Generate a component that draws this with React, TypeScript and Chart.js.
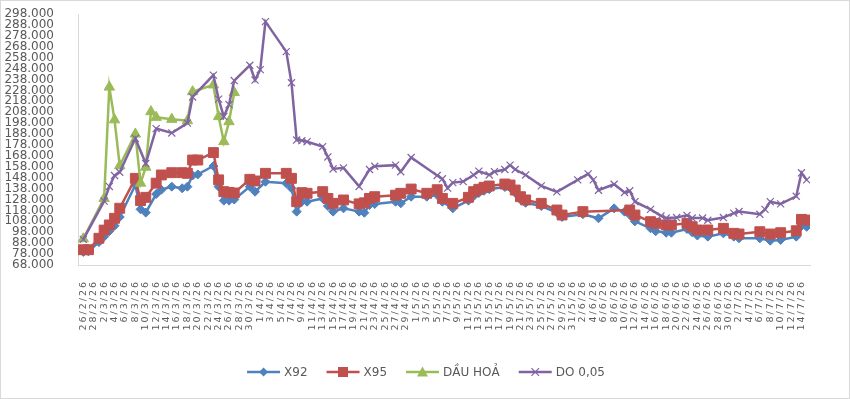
import { useEffect, useRef } from 'react';
import { Chart, registerables, LinearScale } from 'chart.js';

Chart.register(...registerables);

// Linear day-index axis whose tick labels are drawn letter-spaced
class SpacedDayScale extends LinearScale {
  static id = 'spacedDay';
  static defaults = {};
  drawLabels(chartArea: any) {
    const ctx = this.ctx as any;
    ctx.save();
    ctx.letterSpacing = '2px';
    super.drawLabels(chartArea);
    ctx.restore();
  }
}
Chart.register(SpacedDayScale);

// Daily calendar, 26/2/26 .. 15/7/26
const FIRST_DAY = new Date(2026, 1, 26);
const LAST_DAY = new Date(2026, 6, 15);
const days: string[] = [];
for (let d = new Date(FIRST_DAY); d <= LAST_DAY; d.setDate(d.getDate() + 1)) {
  days.push(`${d.getDate()}/${d.getMonth() + 1}/26`);
}

const Y_MIN = 68000;
const Y_MAX = 298000;
const Y_STEP = 10000;

const seriesNames = ['X92', 'X95', 'DẦU HOẢ', 'DO 0,05'];
const seriesColors = ['#4F81BD', '#C0504D', '#9BBB59', '#8064A2'];

const x92: [string, number][] = [
  ['26/2/26', 80000], ['27/2/26', 80500], ['1/3/26', 89000], ['2/3/26', 94000], ['3/3/26', 99000],
  ['4/3/26', 104000], ['5/3/26', 112000], ['8/3/26', 141300], ['9/3/26', 119000], ['10/3/26', 116000],
  ['12/3/26', 133000], ['13/3/26', 137000], ['15/3/26', 139800], ['17/3/26', 138300], ['18/3/26', 139800],
  ['19/3/26', 150000], ['20/3/26', 151000], ['23/3/26', 158700], ['24/3/26', 139800], ['25/3/26', 127000],
  ['26/3/26', 127000], ['27/3/26', 128000], ['30/3/26', 139800], ['31/3/26', 135200], ['2/4/26', 144300],
  ['6/4/26', 142900], ['7/4/26', 138300], ['8/4/26', 116900], ['9/4/26', 126000], ['10/4/26', 126000],
  ['13/4/26', 129000], ['14/4/26', 122000], ['15/4/26', 116900], ['17/4/26', 119900], ['20/4/26', 116900],
  ['21/4/26', 115900], ['22/4/26', 123000], ['23/4/26', 123900], ['27/4/26', 126000], ['28/4/26', 124500],
  ['30/4/26', 130600], ['3/5/26', 130600], ['5/5/26', 132100], ['6/5/26', 126000], ['8/5/26', 119900],
  ['11/5/26', 127000], ['12/5/26', 131000], ['13/5/26', 134000], ['14/5/26', 136000], ['15/5/26', 137500],
  ['18/5/26', 139500], ['19/5/26', 139000], ['20/5/26', 134000], ['21/5/26', 128000], ['22/5/26', 125000],
  ['25/5/26', 122000], ['28/5/26', 116000], ['29/5/26', 112000], ['2/6/26', 114500], ['5/6/26', 110800],
  ['8/6/26', 119900], ['10/6/26', 116900], ['11/6/26', 114000], ['12/6/26', 108000], ['15/6/26', 101600],
  ['16/6/26', 99000], ['18/6/26', 97600], ['19/6/26', 97600], ['22/6/26', 101000], ['23/6/26', 98000],
  ['24/6/26', 95000], ['26/6/26', 94000], ['29/6/26', 97000], ['1/7/26', 94000], ['2/7/26', 92500],
  ['6/7/26', 92500], ['8/7/26', 90300], ['10/7/26', 91000], ['13/7/26', 94000], ['14/7/26', 103700],
  ['15/7/26', 103000],
];

const x95: [string, number][] = [
  ['26/2/26', 82000], ['27/2/26', 82000], ['1/3/26', 92500], ['2/3/26', 100000], ['3/3/26', 104700],
  ['4/3/26', 110800], ['5/3/26', 120000], ['8/3/26', 147400], ['9/3/26', 127000], ['10/3/26', 130000],
  ['12/3/26', 143000], ['13/3/26', 150500], ['15/3/26', 152600], ['17/3/26', 152600], ['18/3/26', 152000],
  ['19/3/26', 164200], ['20/3/26', 164200], ['23/3/26', 171000], ['24/3/26', 146000], ['25/3/26', 135200],
  ['26/3/26', 134500], ['27/3/26', 134000], ['30/3/26', 146500], ['31/3/26', 145000], ['2/4/26', 152000],
  ['6/4/26', 152000], ['7/4/26', 147400], ['8/4/26', 126000], ['9/4/26', 134300], ['10/4/26', 133700],
  ['13/4/26', 135200], ['14/4/26', 129000], ['15/4/26', 124500], ['17/4/26', 127600], ['20/4/26', 124000],
  ['21/4/26', 125000], ['22/4/26', 129000], ['23/4/26', 130600], ['27/4/26', 132000], ['28/4/26', 133700],
  ['30/4/26', 137600], ['3/5/26', 133700], ['5/5/26', 137000], ['6/5/26', 129000], ['8/5/26', 124500],
  ['11/5/26', 130000], ['12/5/26', 135200], ['13/5/26', 137400], ['14/5/26', 139200], ['15/5/26', 140400],
  ['18/5/26', 142200], ['19/5/26', 141300], ['20/5/26', 136700], ['21/5/26', 130600], ['22/5/26', 127600],
  ['25/5/26', 124500], ['28/5/26', 118400], ['29/5/26', 113800], ['2/6/26', 116900], ['11/6/26', 118400],
  ['12/6/26', 113800], ['15/6/26', 107700], ['16/6/26', 106200], ['18/6/26', 104700], ['19/6/26', 104700],
  ['22/6/26', 106200], ['23/6/26', 103100], ['24/6/26', 100100], ['26/6/26', 100100], ['29/6/26', 101600],
  ['1/7/26', 97000], ['2/7/26', 96400], ['6/7/26', 98500], ['8/7/26', 96400], ['10/7/26', 97600],
  ['13/7/26', 99400], ['14/7/26', 109800], ['15/7/26', 109200],
];

const dauHoa: [string, number][] = [
  ['26/2/26', 92000], ['2/3/26', 129000], ['3/3/26', 231000], ['4/3/26', 201000], ['5/3/26', 159000],
  ['8/3/26', 188000], ['9/3/26', 143000], ['10/3/26', 157600], ['11/3/26', 208500], ['12/3/26', 203300],
  ['15/3/26', 201500], ['18/3/26', 200200], ['19/3/26', 226800], ['23/3/26', 233000], ['24/3/26', 204000],
  ['25/3/26', 181000], ['26/3/26', 199300], ['27/3/26', 226000],
];

const do005: [string, number][] = [
  ['26/2/26', 91500], ['2/3/26', 126500], ['3/3/26', 140000], ['4/3/26', 150000], ['5/3/26', 153000],
  ['8/3/26', 184000], ['10/3/26', 161000], ['12/3/26', 193000], ['15/3/26', 189000], ['18/3/26', 198000],
  ['19/3/26', 222000], ['23/3/26', 242000], ['24/3/26', 220000], ['25/3/26', 204000], ['26/3/26', 215000],
  ['27/3/26', 237000], ['30/3/26', 251000], ['31/3/26', 237500], ['1/4/26', 247000], ['2/4/26', 291000],
  ['6/4/26', 263500], ['7/4/26', 235000], ['8/4/26', 182500], ['9/4/26', 182000], ['10/4/26', 181000],
  ['13/4/26', 176500], ['14/4/26', 167000], ['15/4/26', 156000], ['17/4/26', 157000], ['20/4/26', 140000],
  ['22/4/26', 155500], ['23/4/26', 158500], ['27/4/26', 159500], ['28/4/26', 153500], ['30/4/26', 166500],
  ['5/5/26', 150000], ['6/5/26', 147000], ['7/5/26', 138500], ['8/5/26', 143500], ['10/5/26', 144500],
  ['12/5/26', 150500], ['13/5/26', 154000], ['15/5/26', 150500], ['16/5/26', 153500], ['18/5/26', 155500],
  ['19/5/26', 159500], ['20/5/26', 155500], ['22/5/26', 150500], ['25/5/26', 140500], ['28/5/26', 135000],
  ['1/6/26', 146000], ['3/6/26', 151500], ['4/6/26', 146000], ['5/6/26', 136500], ['8/6/26', 142000],
  ['10/6/26', 134500], ['11/6/26', 136000], ['12/6/26', 126000], ['15/6/26', 119000], ['17/6/26', 113000],
  ['18/6/26', 111000], ['20/6/26', 111500], ['22/6/26', 113500], ['23/6/26', 111000], ['25/6/26', 111000],
  ['26/6/26', 109000], ['29/6/26', 111500], ['1/7/26', 115500], ['2/7/26', 117000], ['6/7/26', 114500],
  ['7/7/26', 119000], ['8/7/26', 126000], ['10/7/26', 124000], ['13/7/26', 131000], ['14/7/26', 152500],
  ['15/7/26', 146000],
];

const TEXT_COLOR = '#595959';
const FONT_FAMILY = '"DejaVu Sans", sans-serif';

function toPoints(points: [string, number][]) {
  return points.map(([d, v]) => ({ x: days.indexOf(d), y: v }));
}

function formatThousands(v: number): string {
  return String(Math.round(v)).replace(/\B(?=(\d{3})+(?!\d))/g, '.');
}

type MarkerKind = 'rectRot' | 'rect' | 'triangle' | 'crossRot';

function drawMarker(ctx: CanvasRenderingContext2D, kind: MarkerKind, x: number, y: number, color: string) {
  ctx.save();
  ctx.fillStyle = color;
  ctx.strokeStyle = color;
  ctx.beginPath();
  if (kind === 'rectRot') {
    const r = 4.5;
    ctx.moveTo(x, y - r);
    ctx.lineTo(x + r, y);
    ctx.lineTo(x, y + r);
    ctx.lineTo(x - r, y);
    ctx.closePath();
    ctx.fill();
  } else if (kind === 'rect') {
    const s = 5;
    ctx.rect(x - s, y - s, s * 2, s * 2);
    ctx.fill();
  } else if (kind === 'triangle') {
    const r = 5.5;
    ctx.moveTo(x, y - r);
    ctx.lineTo(x + r, y + r * 0.8);
    ctx.lineTo(x - r, y + r * 0.8);
    ctx.closePath();
    ctx.fill();
  } else {
    const r = 3.8;
    ctx.lineWidth = 1.2;
    ctx.moveTo(x - r, y - r);
    ctx.lineTo(x + r, y + r);
    ctx.moveTo(x + r, y - r);
    ctx.lineTo(x - r, y + r);
    ctx.stroke();
  }
  ctx.restore();
}

const markerKinds: MarkerKind[] = ['rectRot', 'rect', 'triangle', 'crossRot'];

// Frame + white background behind the whole chart
const framePlugin = {
  id: 'frame',
  beforeDraw(chart: Chart) {
    const { ctx, width, height } = chart;
    ctx.save();
    ctx.fillStyle = '#ffffff';
    ctx.fillRect(0, 0, width, height);
    ctx.strokeStyle = '#d9d9d9';
    ctx.lineWidth = 1;
    ctx.strokeRect(0.5, 0.5, width - 1, height - 1);
    ctx.restore();
  },
};

// Legend row: short line with the series marker, then the name
const lineLegendPlugin = {
  id: 'lineLegend',
  afterDraw(chart: Chart) {
    const ctx = chart.ctx;
    ctx.save();
    ctx.font = `12px ${FONT_FAMILY}`;
    const lineLen = 33;
    const textGap = 4;
    const itemGap = 19;
    const widths = seriesNames.map((n) => ctx.measureText(n).width);
    const total =
      widths.reduce((s, w) => s + lineLen + textGap + w, 0) + itemGap * (seriesNames.length - 1);
    let x = chart.width / 2 + 1 - total / 2;
    const y = 372;
    seriesNames.forEach((name, i) => {
      const color = seriesColors[i];
      ctx.strokeStyle = color;
      ctx.lineWidth = 2.5;
      ctx.beginPath();
      ctx.moveTo(x, y);
      ctx.lineTo(x + lineLen, y);
      ctx.stroke();
      drawMarker(ctx, markerKinds[i], x + lineLen / 2, y, color);
      ctx.fillStyle = TEXT_COLOR;
      ctx.textAlign = 'left';
      ctx.textBaseline = 'middle';
      ctx.fillText(name, x + lineLen + textGap, y + 1);
      x += lineLen + textGap + widths[i] + itemGap;
    });
    ctx.restore();
  },
};

export default function App() {
  const canvasRef = useRef<HTMLCanvasElement | null>(null);

  useEffect(() => {
    const canvas = canvasRef.current;
    if (!canvas) return;
    const seriesData = [x92, x95, dauHoa, do005];
    const chart = new Chart(canvas, {
      type: 'line',
      data: {
        datasets: seriesNames.map((name, i) => ({
          label: name,
          data: toPoints(seriesData[i]),
          borderColor: seriesColors[i],
          backgroundColor: seriesColors[i],
          borderWidth: 2.5,
          pointStyle: markerKinds[i],
          pointRadius: [4.5, 7, 6, 5][i],
          pointBorderWidth: i === 3 ? 1.2 : 1,
          pointBorderColor: seriesColors[i],
          pointBackgroundColor: seriesColors[i],
          tension: 0,
          order: 4 - i,
        })),
      },
      options: {
        responsive: false,
        devicePixelRatio: 1,
        animation: false,
        layout: { padding: { top: 14, right: 40, bottom: 64, left: 0 } },
        plugins: {
          legend: { display: false },
          tooltip: { enabled: false },
        },
        scales: {
          x: {
            type: 'spacedDay',
            min: -1.02,
            max: days.length - 1 + 0.64,
            grid: { display: false },
            border: { display: true, color: '#d9d9d9', width: 1 },
            afterFit: (scale: any) => {
              scale.height = 70;
            },
            afterBuildTicks: (scale: any) => {
              scale.ticks = days
                .map((_, i) => ({ value: i }))
                .filter((t) => t.value % 2 === 0);
            },
            ticks: {
              autoSkip: false,
              maxRotation: 90,
              minRotation: 90,
              padding: 7,
              color: TEXT_COLOR,
              font: { family: FONT_FAMILY, size: 9.5 },
              callback: (v: any) => days[Number(v)] ?? '',
            },
          } as any,
          y: {
            min: Y_MIN,
            max: Y_MAX,
            grid: { display: false },
            border: { display: true, color: '#d9d9d9', width: 1 },
            afterFit: (scale: any) => {
              scale.width = 78;
              scale.paddingTop = 0;
              scale.paddingBottom = 0;
            },
            ticks: {
              stepSize: Y_STEP,
              autoSkip: false,
              padding: 16,
              color: TEXT_COLOR,
              font: { family: FONT_FAMILY, size: 12 },
              callback: (v: any) => formatThousands(Number(v)),
            },
          },
        },
      },
      plugins: [framePlugin, lineLegendPlugin],
    });
    return () => chart.destroy();
  }, []);

  return (
    <div style={{ position: 'absolute', left: 0, top: 0, width: 850, height: 399 }}>
      <canvas ref={canvasRef} width={850} height={399} />
    </div>
  );
}
